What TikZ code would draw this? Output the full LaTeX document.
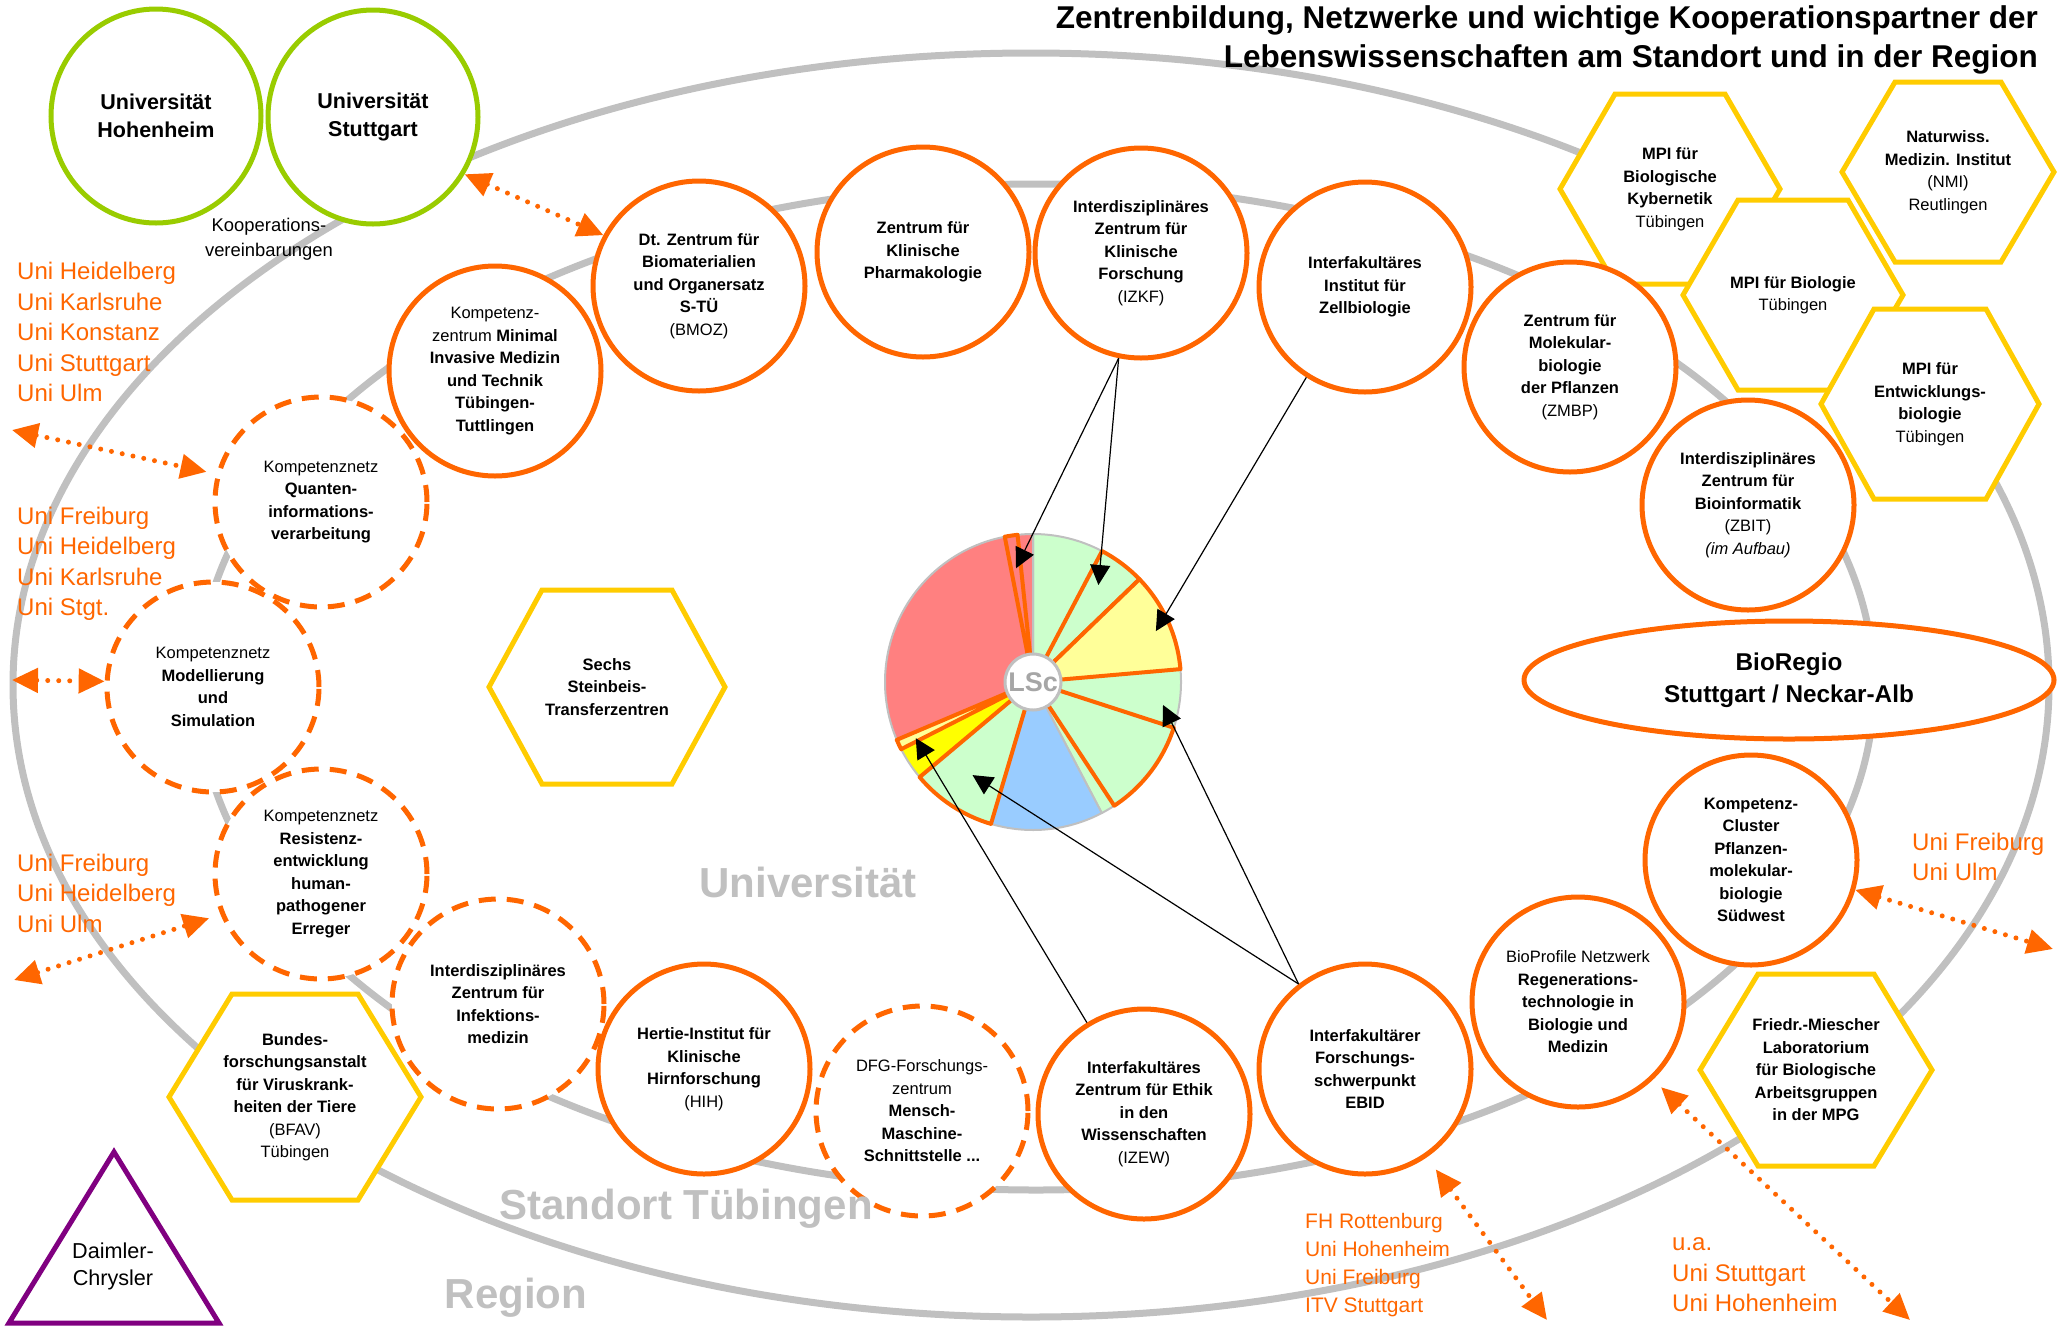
\documentclass[tikz,border=0pt]{standalone}
\usepackage{fontspec}
\setmainfont{Liberation Sans}
\usetikzlibrary{arrows.meta, shapes.geometric}
\definecolor{tuorange}{RGB}{255,102,0}
\definecolor{uniGreen}{RGB}{153,204,0}
\definecolor{hexYellow}{RGB}{255,204,0}
\definecolor{trackGrey}{RGB}{192,192,192}
\definecolor{hubGrey}{RGB}{166,166,166}
\definecolor{dcPurple}{RGB}{128,0,128}
\definecolor{pieGreen}{RGB}{204,255,204}
\definecolor{piePale}{RGB}{255,255,153}
\definecolor{pieYellow}{RGB}{255,255,0}
\definecolor{pieBlue}{RGB}{153,204,255}
\definecolor{pieRed}{RGB}{255,128,128}
\newcommand{\nodefont}{\fontsize{16.5}{22.5}\selectfont}
\newcommand{\hexnode}[6]{%
  \draw[hexa, shift={(#2)}] (-#3,0) -- (-#5,-#4) -- (#5,-#4) -- (#3,0) -- (#5,#4) -- (-#5,#4) -- cycle;
  \node[hextext] (#1) at (#2) {#6};}

\begin{document}
\begin{tikzpicture}[x=1pt, y=-1pt,
  track/.style={draw=trackGrey, line width=7pt},
  ctr/.style={ellipse, draw=tuorange, line width=5pt, fill=white, minimum width=212pt,
    minimum height=210pt, inner sep=0pt, align=center, font=\nodefont\bfseries},
  netz/.style={ctr, dash pattern=on 17pt off 11pt},
  partner/.style={ellipse, draw=uniGreen, line width=5pt, fill=white, minimum width=210pt,
    minimum height=214pt, inner sep=0pt, align=center, font=\bfseries\fontsize{21.5}{28}\selectfont},
  hexa/.style={draw=hexYellow, line width=5pt, fill=white, line join=miter},
  hextext/.style={inner sep=0pt, align=center, font=\nodefont\bfseries},
  unilist/.style={anchor=west, inner sep=0pt, align=left, text=tuorange, font=\fontsize{24}{30.5}\selectfont},
  coop/.style={draw=tuorange, line width=5pt, line cap=round, dash pattern=on 0pt off 11pt,
    {Triangle[length=26pt,width=24pt]}-{Triangle[length=26pt,width=24pt]}},
  pointer/.style={draw=black, line width=1.2pt, -{Triangle[length=20pt,width=20pt]}},
  slice/.style={draw=trackGrey, line width=2pt, line join=round},
  hotslice/.style={draw=tuorange, line width=4pt, line join=round},
  bigword/.style={text=trackGrey, font=\bfseries\fontsize{42}{50}\selectfont}]

  \useasboundingbox (0,0) rectangle (2060,1326);

  \draw[track] (1031,685) ellipse [x radius=1018, y radius=632];
  \draw[track] (1036,687) ellipse [x radius=838, y radius=503];

  \node[partner] (hohenheim) at (156,116) {Universität\\Hohenheim};
  \node[partner] (unistg) at (373,117) {Universität\\Stuttgart};

  \hexnode{mpikyb}{1670,189}{110}{95}{55}{MPI für\\Biologische\\Kybernetik\\\textmd{Tübingen}}
  \hexnode{nmi}{1948,172}{106}{90}{53}{Naturwiss.\\Medizin. Institut\\\textmd{(NMI)}\\\textmd{Reutlingen}}
  \hexnode{mpibio}{1793,295}{110}{95}{55}{MPI für Biologie\\\textmd{Tübingen}}
  \hexnode{mpientw}{1930,404}{109}{95}{56}{MPI für\\Entwicklungs-\\biologie\\\textmd{Tübingen}}
  \hexnode{stb}{607,687}{118}{97}{65}{Sechs\\Steinbeis-\\Transferzentren}
  \hexnode{bfav}{295,1097}{126}{103}{63}{Bundes-\\forschungsanstalt\\für Viruskrank-\\heiten der Tiere\\\textmd{(BFAV)}\\\textmd{Tübingen}}
  \hexnode{fml}{1816,1070}{116}{96}{58}{Friedr.-Miescher\\Laboratorium\\für Biologische\\Arbeitsgruppen\\in der MPG}

  \node[netz] (qit) at (321,502) {\textmd{Kompetenznetz}\\Quanten-\\informations-\\verarbeitung};
  \node[netz] (model) at (213,687) {\textmd{Kompetenznetz}\\Modellierung\\und\\Simulation};
  \node[netz] (resist) at (321,874) {\textmd{Kompetenznetz}\\Resistenz-\\entwicklung\\human-\\pathogener\\Erreger};
  \node[netz] (zim) at (498,1004) {Interdisziplinäres\\Zentrum für\\Infektions-\\medizin};
  \node[netz] (dfg) at (922,1111) {\textmd{DFG-Forschungs-}\\\textmd{zentrum}\\Mensch-\\Maschine-\\Schnittstelle ...};
  \node[ctr] (mit) at (495,371) {\textmd{Kompetenz-}\\\textmd{zentrum} Minimal\\Invasive Medizin\\und Technik\\Tübingen-\\Tuttlingen};
  \node[ctr] (bmoz) at (699,286) {Dt. Zentrum für\\Biomaterialien\\und Organersatz\\S-TÜ\\\textmd{(BMOZ)}};
  \node[ctr] (pharm) at (923,252) {Zentrum für\\Klinische\\Pharmakologie};
  \node[ctr] (izkf) at (1141,253) {Interdisziplinäres\\Zentrum für\\Klinische\\Forschung\\\textmd{(IZKF)}};
  \node[ctr] (zelle) at (1365,287) {Interfakultäres\\Institut für\\Zellbiologie};
  \node[ctr] (zmbp) at (1570,367) {Zentrum für\\Molekular-\\biologie\\der Pflanzen\\\textmd{(ZMBP)}};
  \node[ctr] (zbit) at (1748,505) {Interdisziplinäres\\Zentrum für\\Bioinformatik\\\textmd{(ZBIT)}\\\textmd{\textit{(im Aufbau)}}};
  \node[ctr] (kcluster) at (1751,860) {Kompetenz-\\Cluster\\Pflanzen-\\molekular-\\biologie\\Südwest};
  \node[ctr] (bioprof) at (1578,1002) {\textmd{BioProfile Netzwerk}\\Regenerations-\\technologie in\\Biologie und\\Medizin};
  \node[ctr] (ebid) at (1365,1069) {Interfakultärer\\Forschungs-\\schwerpunkt\\EBID};
  \node[ctr] (izew) at (1144,1114) {Interfakultäres\\Zentrum für Ethik\\in den\\Wissenschaften\\\textmd{(IZEW)}};
  \node[ctr] (hih) at (704,1069) {Hertie-Institut für\\Klinische\\Hirnforschung\\\textmd{(HIH)}};
  \node[ctr, minimum width=530pt, minimum height=118pt, font=\bfseries\fontsize{24.3}{32}\selectfont]
    (bioregio) at (1789,680) {BioRegio\\Stuttgart / Neckar-Alb};

  \draw[draw=dcPurple, line width=5pt, line join=miter, fill=white] (114,1152) -- (219,1323) -- (9,1323) -- cycle;
  \node[align=center, font=\fontsize{21.6}{27}\selectfont] (dc) at (113,1266) {Daimler-\\Chrysler};

  \coordinate (pie) at (1033,682);
  \begin{scope}[shift={(pie)}, yscale=-1]
    \foreach \a/\b/\c in {62.2/90/pieGreen, -18/5/pieGreen, -62.3/-56.7/pieGreen, -106.5/-62.3/pieBlue,
                          -153/-140/pieYellow, 101/203/pieRed, 90/96/pieRed}
      \filldraw[slice, fill=\c] (0,0) -- (\a:148) arc[start angle=\a, end angle=\b, radius=148] -- cycle;
    \foreach \a/\b/\c in {44/62.2/pieGreen, 5/44/piePale, -56.7/-18/pieGreen, -140/-106.5/pieGreen,
                          -157/-153/piePale, 96/101/pieRed}
      \filldraw[hotslice, fill=\c] (0,0) -- (\a:148) arc[start angle=\a, end angle=\b, radius=148] -- cycle;
    \coordinate (tizkf) at (98.5:115);
    \coordinate (tizkfb) at (56:117);
    \coordinate (tzelle) at (22.5:133);
    \coordinate (tebid) at (-10:132);
    \coordinate (tebidb) at (-123:111);
    \coordinate (tizew) at (205.6:130);
  \end{scope}
  \node[circle, draw=trackGrey, line width=3pt, fill=white, minimum size=56pt, inner sep=0pt,
    text=hubGrey, font=\bfseries\fontsize{27}{30}\selectfont] (lsc) at (pie) {LSc};

  \draw[pointer] (izkf.-102) -- (tizkf);
  \draw[pointer] (izkf.-102) -- (tizkfb);
  \draw[pointer] (zelle.-123) -- (tzelle);
  \draw[pointer] (ebid.128) -- (tebid);
  \draw[pointer] (ebid.128) -- (tebidb);
  \draw[pointer] (izew.122) -- (tizew);

  \node[unilist] (lista) at (17,332) {Uni Heidelberg\\Uni Karlsruhe\\Uni Konstanz\\Uni Stuttgart\\Uni Ulm};
  \node[unilist] (listb) at (17,564) {Uni Freiburg\\Uni Heidelberg\\Uni Karlsruhe\\Uni Stgt.};
  \node[unilist] (listc) at (17,893) {Uni Freiburg\\Uni Heidelberg\\Uni Ulm};
  \node[unilist] (listd) at (1912,857) {Uni Freiburg\\Uni Ulm};
  \node[unilist, font=\fontsize{21}{27.7}\selectfont] (liste) at (1305,1265) {FH Rottenburg\\Uni Hohenheim\\Uni Freiburg\\ITV Stuttgart};
  \node[unilist] (listf) at (1672,1275) {u.a.\\Uni Stuttgart\\Uni Hohenheim};

  \coordinate (wa) at (12,430);
  \coordinate (wb) at (12,680);
  \coordinate (wc) at (14,980);
  \coordinate (ea) at (2053,949);
  \coordinate (sa) at (1547,1320);
  \coordinate (sb) at (1910,1320);
  \draw[coop] (unistg.-32) -- (bmoz.152);
  \draw[coop, shorten >=10pt] (wa) -- (qit.165);
  \draw[coop] (wb) -- (model.177);
  \draw[coop, shorten >=12pt] (wc) -- (resist.202);
  \draw[coop] (kcluster.-16) -- (ea);
  \draw[coop, shorten <=15pt] (ebid.-55) -- (sa);
  \draw[coop, shorten <=11pt] (bioprof.-46) -- (sb);

  \node[align=center, font=\fontsize{18.4}{25}\selectfont] (koop) at (269,239) {Kooperations-\\vereinbarungen};

  \node[bigword] (lbuni) at (808,882) {Universität};
  \node[bigword] (lbort) at (686,1209) {Standort Tübingen};
  \node[bigword] (lbreg) at (516,1298) {Region};

  \node[anchor=east, align=right, inner sep=0pt, font=\bfseries\fontsize{31.5}{39}\selectfont]
    (title) at (2038,40) {Zentrenbildung, Netzwerke und wichtige Kooperationspartner der\\Lebenswissenschaften am Standort und in der Region};
\end{tikzpicture}
\end{document}
